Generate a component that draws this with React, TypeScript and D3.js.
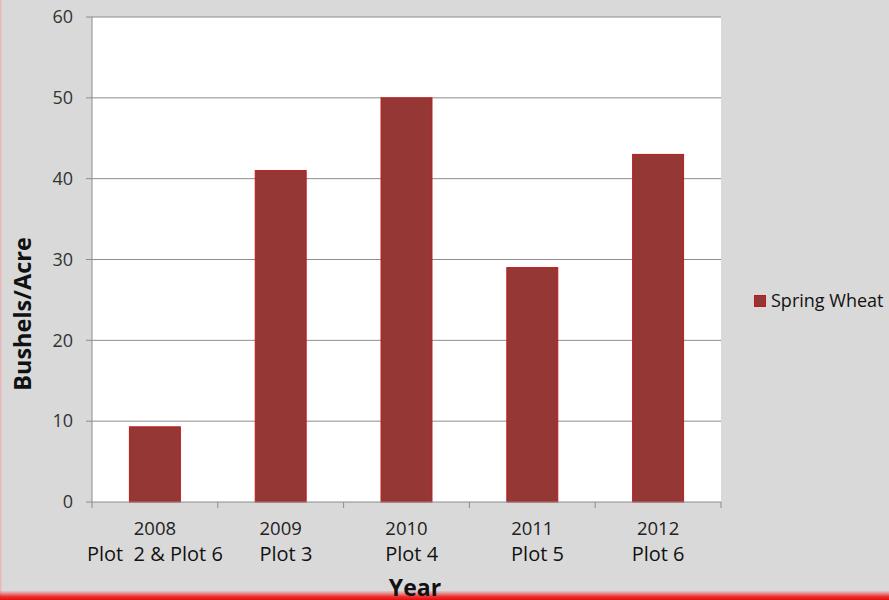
import React from "react";
import * as d3 from "d3";

const years = ["2008", "2009", "2010", "2011", "2012"];
const plots = ["Plot  2 & Plot 6", "  Plot 3", "  Plot 4", "  Plot 5", "Plot 6"];
const springWheat = [9.3, 41, 50, 29, 43];
const yTicks = [0, 10, 20, 30, 40, 50, 60];
const seriesName = "Spring Wheat";

const W = 889;
const H = 600;
const plot = { left: 92, top: 17, right: 721, bottom: 502 };
const font = "'Open Sans', sans-serif";
const barFill = "#953735";
const barStroke = "#c0191b";

export default function App() {
  const x = d3.scaleBand<number>().domain(d3.range(years.length)).range([plot.left, plot.right]);
  const y = d3.scaleLinear().domain([0, 60]).range([plot.bottom, plot.top]);
  const bw = x.bandwidth() * 0.405;
  return (
    <svg width={W} height={H} style={{ position: "absolute", left: 0, top: 0 }} fontFamily={font}>
      <defs>
        <linearGradient id="redBottom" x1="0" y1="0" x2="0" y2="1">
          <stop offset="0" stopColor="#f05050" stopOpacity="0.15" />
          <stop offset="0.6" stopColor="#f02020" stopOpacity="0.9" />
          <stop offset="1" stopColor="#e01010" />
        </linearGradient>
      </defs>
      <rect x={0} y={0} width={W} height={H} fill="#d9d9d9" />
      <rect x={0} y={0} width={1.5} height={H} fill="#e8b8b8" />
      <rect x={0} y={591} width={W} height={9} fill="url(#redBottom)" />
      <rect x={plot.left} y={plot.top} width={plot.right - plot.left} height={plot.bottom - plot.top} fill="#ffffff" />
      {yTicks.map((t) => (
        <g key={t}>
          {t > 0 && <line x1={plot.left} x2={plot.right} y1={y(t)} y2={y(t)} stroke="#8c8c8c" strokeWidth={1} />}
          <line x1={plot.left - 6} x2={plot.left} y1={y(t)} y2={y(t)} stroke="#8c8c8c" strokeWidth={1} />
          <text x={73} y={y(t)} dy="0.35em" textAnchor="end" fontSize={18} fill="#333333">{t}</text>
        </g>
      ))}
      {springWheat.map((v, i) => {
        const cx = (x(i) as number) + x.bandwidth() / 2;
        return (
          <rect key={i} x={cx - bw / 2} y={y(v)} width={bw} height={y(0) - y(v)} fill={barFill} stroke={barStroke} strokeWidth={1} />
        );
      })}
      <line x1={plot.left} x2={plot.left} y1={plot.top} y2={plot.bottom} stroke="#8c8c8c" strokeWidth={1} />
      <line x1={plot.left} x2={plot.right} y1={plot.bottom} y2={plot.bottom} stroke="#8c8c8c" strokeWidth={1} />
      {d3.range(years.length + 1).map((i) => {
        const xx = i < years.length ? (x(i) as number) : plot.right;
        return <line key={i} x1={xx} x2={xx} y1={plot.bottom} y2={plot.bottom + 6} stroke="#8c8c8c" strokeWidth={1} />;
      })}
      {years.map((yr, i) => {
        const cx = (x(i) as number) + x.bandwidth() / 2;
        return (
          <g key={yr}>
            <text x={cx} y={535} textAnchor="middle" fontSize={18.5} fill="#222222">{yr}</text>
            <text x={cx} y={561} textAnchor="middle" fontSize={20} fill="#111111" style={{ whiteSpace: "pre" }}>{plots[i]}</text>
          </g>
        );
      })}
      <text transform="translate(31,314) rotate(-90)" textAnchor="middle" fontSize={23.5} fontWeight="bold" fill="#111111">Bushels/Acre</text>
      <text x={415} y={596} textAnchor="middle" fontSize={23} fontWeight="bold" fill="#111111">Year</text>
      <rect x={754.5} y={295.5} width={11} height={11} fill={barFill} stroke={barStroke} strokeWidth={1} />
      <text x={771} y={301} dy="0.35em" fontSize={18} fill="#111111">{seriesName}</text>
    </svg>
  );
}
